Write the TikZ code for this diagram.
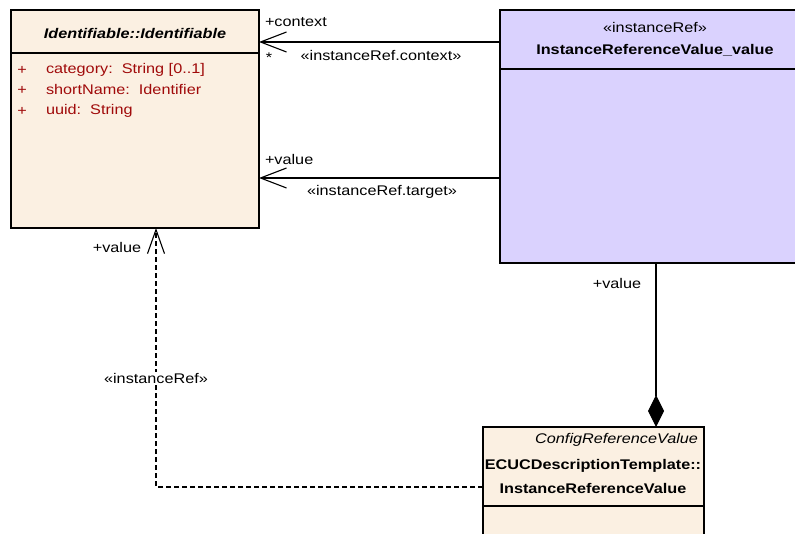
\documentclass[tikz,border=0pt]{standalone}
\usepackage{fontspec}
\setmainfont{Liberation Sans}[FakeStretch=1.16]
\usetikzlibrary{arrows.meta}
\definecolor{tanfill}{RGB}{251,240,226}
\definecolor{lilac}{RGB}{218,210,254}
\definecolor{attrred}{RGB}{160,10,10}
\begin{document}
\begin{tikzpicture}[x=1pt,y=-1pt,
  font=\fontsize{14}{16}\selectfont,
  classbox/.style={draw=black, line width=1.3pt, inner sep=0pt, outer sep=0pt, anchor=north west},
  txt/.style={inner sep=0pt, outer sep=0pt},
  attr/.style={txt, text=attrred, anchor=west},
  conn/.style={draw=black, line width=1.1pt},
  openhead/.style={-{Straight Barb[length=26pt,width=20pt,line width=1.1pt]}},
  openheadsmall/.style={-{Straight Barb[length=24pt,width=17pt,line width=1.1pt]}},
  comp/.style={{Diamond[length=32pt,width=16pt,fill=black]}-}
]
\useasboundingbox (0,0) rectangle (795,534);
\clip (0,0) rectangle (795,534);

% Identifiable class
\node[classbox, fill=tanfill, minimum width=248pt, minimum height=218pt] (id) at (11,10) {};
\draw[line width=1.3pt] ([yshift=-43pt]id.north west) -- ([yshift=-43pt]id.north east);
\node[txt, font=\fontsize{14}{16}\selectfont\bfseries\itshape] (idname) at (135,34) {Identifiable::Identifiable};
\node[txt, text=attrred] (p1) at (22,70) {+};
\node[attr] (a1) at (46,70) {category:\ \ String [0..1]};
\node[txt, text=attrred] (p2) at (22,90) {+};
\node[attr] (a2) at (46,90) {shortName:\ \ Identifier};
\node[txt, text=attrred] (p3) at (22,111) {+};
\node[attr] (a3) at (46,111) {uuid:\ \ String};

% InstanceReferenceValue_value class
\node[classbox, fill=lilac, minimum width=310pt, minimum height=253pt] (rv) at (500,10) {};
\draw[line width=1.3pt] ([yshift=-59pt]rv.north west) -- ([yshift=-59pt]rv.north east);
\node[txt] (rvst) at (655,28) {«instanceRef»};
\node[txt, font=\fontsize{14}{16}\selectfont\bfseries] (rvname) at (655,50) {InstanceReferenceValue\_value};

% ECUC InstanceReferenceValue class
\node[classbox, fill=tanfill, minimum width=221pt, minimum height=140pt] (ecuc) at (483,427) {};
\draw[line width=1.3pt] ([yshift=-79pt]ecuc.north west) -- ([yshift=-79pt]ecuc.north east);
\node[txt, anchor=east, font=\fontsize{14}{16}\selectfont\itshape] (ecst) at (698,440) {ConfigReferenceValue};
\node[txt, font=\fontsize{14}{16}\selectfont\bfseries] (ecn1) at (593,466) {ECUCDescriptionTemplate::};
\node[txt, font=\fontsize{14}{16}\selectfont\bfseries] (ecn2) at (593,488) {InstanceReferenceValue};

% context association
\draw[conn, openhead] ([yshift=-32pt]rv.north west) -- ([yshift=-32pt]id.north east);
\node[txt, anchor=west] (lctx) at (265,22) {+context};
\node[txt] (lstar) at (269,58) {*};
\node[txt] (lctxst) at (381,56) {«instanceRef.context»};

% target association
\draw[conn, openhead] ([yshift=-168pt]rv.north west) -- ([yshift=-168pt]id.north east);
\node[txt, anchor=west] (ltv) at (265,159) {+value};
\node[txt] (ltgst) at (382,192) {«instanceRef.target»};

% composition
\draw[conn, comp] ([xshift=173pt]ecuc.north west) -- ([xshift=156pt]rv.south west);
\node[txt] (lcv) at (617,283) {+value};

% instanceRef dependency
\draw[conn, dash pattern=on 5pt off 3pt, openheadsmall] ([yshift=-60pt]ecuc.north west) -| ([xshift=145pt]id.south west);
\node[txt, fill=white, inner sep=1pt] (ldep) at (156,378) {«instanceRef»};
\node[txt] (ldv) at (117,247) {+value};
\end{tikzpicture}
\end{document}
